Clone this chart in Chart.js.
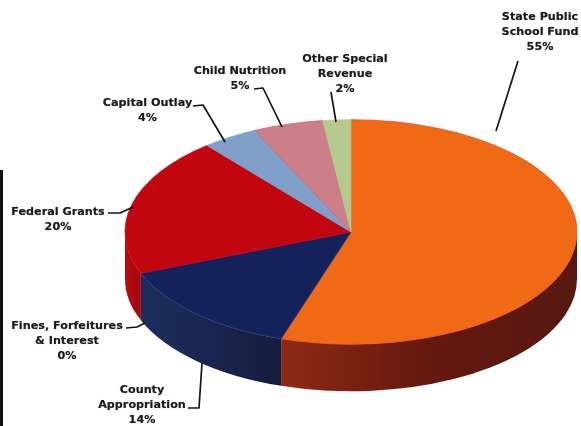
<!DOCTYPE html>
<html lang="en">
<head>
    <meta charset="UTF-8">
    <title>Revenue by source</title>
    <script src="https://cdn.jsdelivr.net/npm/chart.js"></script>
    <style>
        html, body { margin: 0; padding: 0; background: #fff; }
        canvas { display: block; }
        #bar { position: absolute; left: 0; top: 170px; width: 3px; height: 256px; background: #111; }
    </style>
</head>
<body>
    <canvas id="myChart" width="581" height="426"></canvas>
    <div id="bar"></div>
    <script>
        const categories = ["State Public School Fund", "County Appropriation", "Fines, Forfeitures & Interest",
            "Federal Grants", "Capital Outlay", "Child Nutrition", "Other Special Revenue"];
        const shares = [55, 14, 0, 20, 4, 5, 2];
        const topColors = ["#f06a16", "#13225a", "#1c2a60", "#c2060f", "#7f9fc8", "#cc7f88", "#b5c88e"];
        const edgeColors = ["#e8481a", "#1d3080", "#1d3080", "#c2060f", "#7f9fd0", "#c8606c", "#b5c88e"];
        // wall shading, left end / middle / right end of each slice
        const wallLeft = ["#8e2a14", "#1d2c5c", "#1d2c5c", "#b80a12", "#888", "#888", "#888"];
        const wallMid = ["#64180f", "#1a2650", "#1a2650", "#ac0a12", "#888", "#888", "#888"];
        const wallRight = ["#561810", "#141c3c", "#141c3c", "#a00a10", "#888", "#888", "#888"];

        // callout text lines (the share is added as last line), centre x, first baseline y
        const calloutLines = [
            ["State Public", "School Fund"], ["County", "Appropriation"], ["Fines, Forfeitures", "& Interest"],
            ["Federal Grants"], ["Capital Outlay"], ["Child Nutrition"], ["Other Special", "Revenue"]
        ];
        const calloutPos = [[540, 20], [142, 393], [67, 328.5], [58, 214.5], [147.5, 105.5], [240, 74], [345, 61.5]];
        const leaders = [
            [[518, 61], [496, 131]],
            [[188, 408], [199, 408], [202, 363]],
            [[126, 328], [137, 327], [145, 323]],
            [[108, 213], [120, 213], [133, 207]],
            [[193, 106], [203, 105], [225, 142]],
            [[254, 89], [263, 88], [282, 127]],
            [[331, 92], [336, 122]]
        ];

        const squash = 0.497;
        const wallDepth = 47;

        function squashed(ctx, arc) {
            ctx.translate(0, arc.y);
            ctx.scale(1, squash);
            ctx.translate(0, -arc.y);
        }

        const piePlugin = {
            id: "pie3d",
            beforeDatasetsDraw(chart) {
                const ctx = chart.ctx;
                chart.getDatasetMeta(0).data.forEach(function (arc, i) {
                    // only the front half has a visible wall
                    const a = Math.max(arc.startAngle, 0);
                    const b = Math.min(arc.endAngle, Math.PI);
                    if (b <= a) return;
                    const ry = arc.outerRadius * squash;
                    const x1 = arc.x + arc.outerRadius * Math.cos(b);
                    const x2 = arc.x + arc.outerRadius * Math.cos(a);
                    const g = ctx.createLinearGradient(x1, 0, x2, 0);
                    g.addColorStop(0, wallLeft[i]);
                    g.addColorStop(0.5, wallMid[i]);
                    g.addColorStop(1, wallRight[i]);
                    ctx.save();
                    ctx.fillStyle = g;
                    ctx.beginPath();
                    ctx.ellipse(arc.x, arc.y, arc.outerRadius, ry, 0, a, b);
                    ctx.ellipse(arc.x, arc.y + wallDepth, arc.outerRadius, ry, 0, b, a, true);
                    ctx.closePath();
                    ctx.fill();
                    ctx.restore();
                });
            },
            beforeDatasetDraw(chart) {
                chart.ctx.save();
                squashed(chart.ctx, chart.getDatasetMeta(0).data[0]);
            },
            afterDatasetDraw(chart) {
                chart.ctx.restore();
            },
            afterDraw(chart) {
                const ctx = chart.ctx;
                ctx.save();
                ctx.strokeStyle = "#151515";
                ctx.lineWidth = 1.7;
                ctx.lineJoin = "round";
                leaders.forEach(function (pts) {
                    ctx.beginPath();
                    pts.forEach(function (p, j) {
                        if (j === 0) ctx.moveTo(p[0], p[1]); else ctx.lineTo(p[0], p[1]);
                    });
                    ctx.stroke();
                });
                ctx.fillStyle = "#1a1a1a";
                ctx.shadowColor = "rgba(0,0,0,0.45)";
                ctx.shadowBlur = 1;
                ctx.font = "bold 11.2px 'DejaVu Sans'";
                ctx.textAlign = "center";
                calloutLines.forEach(function (lines, i) {
                    const rows = lines.concat([shares[i] + "%"]);
                    rows.forEach(function (t, j) {
                        ctx.fillText(t, calloutPos[i][0], calloutPos[i][1] + j * 15.2);
                    });
                });
                ctx.restore();
            }
        };

        new Chart(document.querySelector("#myChart"), {
            type: "pie",
            data: {
                labels: categories,
                datasets: [{
                    data: shares,
                    backgroundColor: topColors,
                    borderColor: edgeColors,
                    borderWidth: 1
                }]
            },
            options: {
                responsive: false,
                animation: false,
                events: [],
                radius: 226,
                layout: { padding: { left: 121, top: 38 } },
                plugins: { legend: { display: false }, tooltip: { enabled: false } }
            },
            plugins: [piePlugin]
        });
    </script>
</body>
</html>
